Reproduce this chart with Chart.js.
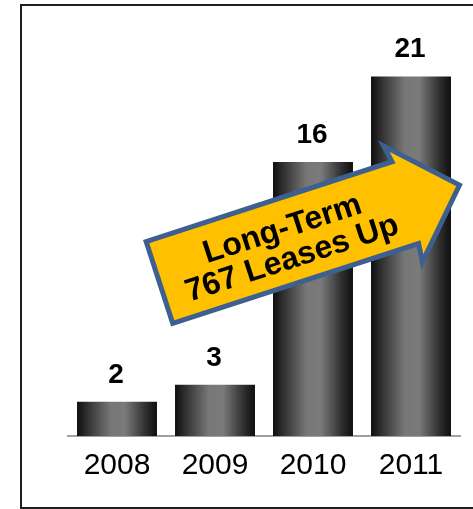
<!DOCTYPE html>
<html>
<head>
<meta charset="utf-8">
<script src="https://cdn.jsdelivr.net/npm/chart.js@4"></script>
<style>
  html, body { margin: 0; padding: 0; background: #fff; overflow: hidden; }
  #wrap { position: relative; width: 473px; height: 509px; overflow: hidden; }
  #chart { position: absolute; left: 0; top: 0; }
  #frame {
    position: absolute; left: 20px; top: 4px; width: 480px; height: 505px;
    border: 2px solid #1e1e1e; box-sizing: border-box; pointer-events: none;
  }
</style>
</head>
<body>
<div id="wrap">
  <canvas id="chart" width="473" height="509"></canvas>
  <div id="frame"></div>
</div>
<script>
// Lease counts per year
const years = ['2008', '2009', '2010', '2011'];
const leases = [2, 3, 16, 21];
const calloutLines = ['Long-Term', '767 Leases Up'];

const FONT = "'Liberation Sans', Arial, sans-serif";
const BAR_FRACTION = 0.816;

// Cylinder-like shading across each bar
function barFill(context) {
  const chart = context.chart;
  const xs = chart.scales && chart.scales.x;
  if (!xs || !chart.chartArea) return '#555';
  const cx = xs.getPixelForValue(context.dataIndex);
  const half = xs.width / years.length * BAR_FRACTION / 2;
  const g = chart.ctx.createLinearGradient(cx - half, 0, cx + half, 0);
  g.addColorStop(0, '#0e0e0e');
  g.addColorStop(0.12, '#2e2e2e');
  g.addColorStop(0.42, '#777777');
  g.addColorStop(0.6, '#7a7a7a');
  g.addColorStop(0.86, '#2e2e2e');
  g.addColorStop(1, '#0e0e0e');
  return g;
}

// Value printed above each bar
const valueLabels = {
  id: 'valueLabels',
  afterDatasetsDraw(chart) {
    const ctx = chart.ctx;
    const meta = chart.getDatasetMeta(0);
    ctx.save();
    ctx.font = 'bold 28px ' + FONT;
    ctx.fillStyle = '#000';
    ctx.textAlign = 'center';
    ctx.textBaseline = 'alphabetic';
    meta.data.forEach((bar, i) => {
      ctx.fillText(String(leases[i]), bar.x - 1, bar.y - 19);
    });
    ctx.restore();
  }
};

// Tilted yellow callout arrow
const callout = {
  id: 'callout',
  afterDraw(chart) {
    const ctx = chart.ctx;
    const area = chart.chartArea;
    const ox = area.left + 75;
    const oy = area.bottom - 196;
    const angle = -18 * Math.PI / 180;
    ctx.save();
    ctx.translate(ox, oy);
    ctx.rotate(angle);
    const pts = [
      [2.5, 2.5], [261, 2.5], [258, -15], [318, 45.5],
      [259, 107], [261, 88.5], [2.5, 88.5]
    ];
    ctx.beginPath();
    pts.forEach((p, i) => i ? ctx.lineTo(p[0], p[1]) : ctx.moveTo(p[0], p[1]));
    ctx.closePath();
    ctx.fillStyle = '#ffc000';
    ctx.fill();
    ctx.lineWidth = 5;
    ctx.lineJoin = 'miter';
    ctx.strokeStyle = '#3d6090';
    ctx.stroke();

    ctx.fillStyle = '#000';
    ctx.font = 'bold 32px ' + FONT;
    ctx.textAlign = 'center';
    ctx.textBaseline = 'alphabetic';
    ctx.fillText(calloutLines[0], 136, 42);
    ctx.fillText(calloutLines[1], 136, 73);
    ctx.restore();
  }
};

new Chart(document.getElementById('chart'), {
  type: 'bar',
  data: {
    labels: years,
    datasets: [{
      data: leases,
      backgroundColor: barFill,
      borderWidth: 0,
      barPercentage: BAR_FRACTION,
      categoryPercentage: 1
    }]
  },
  options: {
    responsive: false,
    animation: false,
    layout: { padding: { left: 68, right: 13, top: 25, bottom: 0 } },
    plugins: { legend: { display: false }, tooltip: { enabled: false } },
    scales: {
      x: {
        grid: { display: false, drawTicks: false },
        border: { display: true, color: '#a0a0a0', width: 2 },
        ticks: { color: '#000', font: { family: FONT, size: 30 }, padding: 12 },
        afterFit(scale) { scale.height = 73; }
      },
      y: { display: false, min: 0, max: 24 }
    }
  },
  plugins: [valueLabels, callout]
});
</script>
</body>
</html>
